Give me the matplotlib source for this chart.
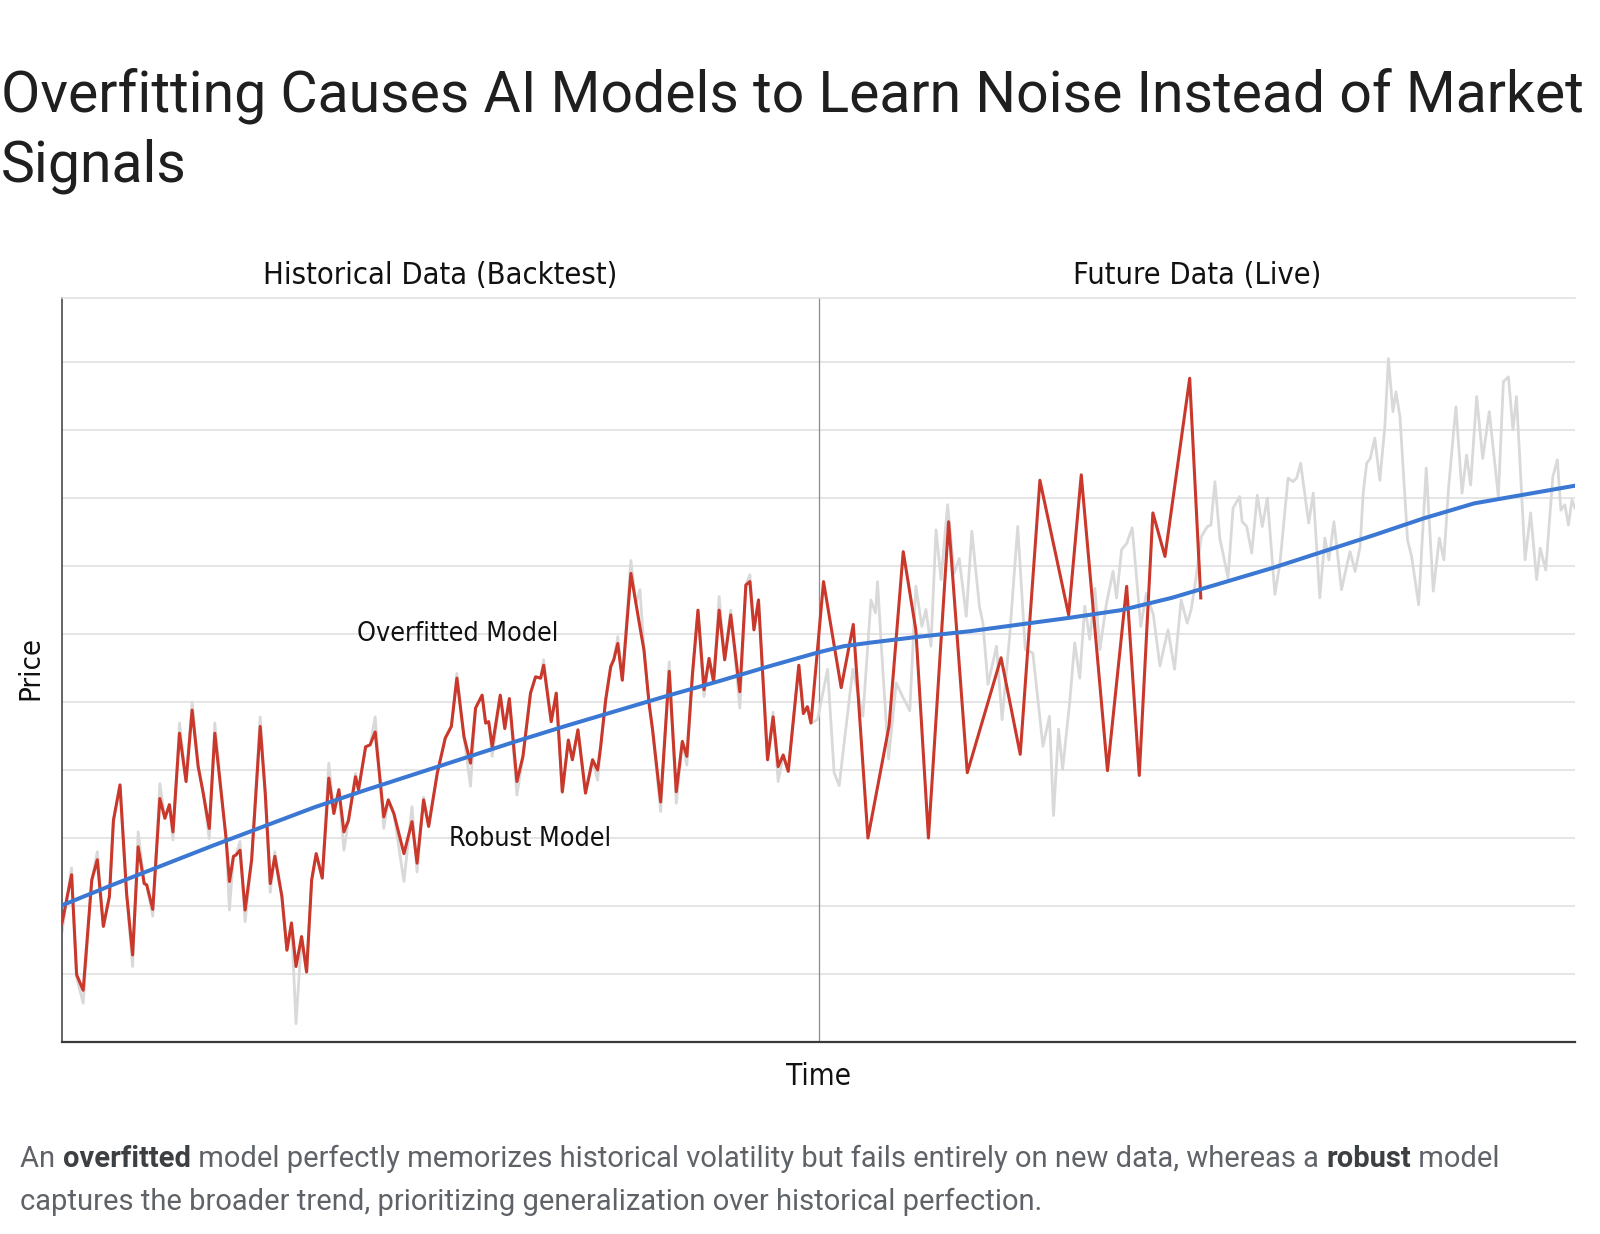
import matplotlib
matplotlib.use("Agg")
import matplotlib.pyplot as plt
from matplotlib.font_manager import FontProperties

# ---------------- data ----------------
# time index 0..300; the split between backtest and live data is at t = 150
hist_t = [0.0, 1.9, 2.9, 4.2, 5.9, 7.0, 8.2, 9.4, 10.2, 11.5,
          12.8, 14.0, 15.1, 16.3, 16.8, 18.0, 19.4, 20.4, 21.3, 22.0,
          23.3, 24.6, 25.8, 27.0, 28.0, 29.2, 30.3, 32.0, 32.5, 33.2,
          34.0, 34.5, 35.3, 36.3, 37.6, 39.3, 40.3, 41.3, 42.2, 43.6,
          44.6, 45.5, 46.4, 47.5, 48.5, 49.5, 50.4,
          51.6, 52.9, 53.9, 54.9, 55.9, 56.8, 58.2, 58.8, 60.2, 61.1,
          62.1, 63.8, 64.7, 65.8, 67.8, 69.4, 70.4, 71.7, 72.7, 74.4,
          76.0, 77.2, 78.3, 79.7, 81.0, 82.0, 83.3, 84.0, 84.6, 85.3,
          86.9, 87.8, 88.7, 90.2, 91.4, 92.9, 93.9, 94.9, 95.5, 97.0,
          98.0, 99.2, 100.4,
          101.2, 102.3, 103.8, 105.2, 106.2, 106.8, 107.8, 108.8, 109.4, 110.2,
          111.1, 112.8, 113.8, 114.6, 115.4, 116.4, 117.1, 118.7, 120.4, 121.8,
          123.0, 123.9, 125.0, 126.1, 127.3, 128.3, 129.2, 130.3, 131.4, 132.6,
          134.4, 135.6, 136.4, 137.2, 138.1, 139.9, 141.0, 142.0, 143.0, 144.0,
          146.1, 147.0, 147.8, 148.5]

hist_overfit = [1.75, 2.46, 0.99, 0.76, 2.38, 2.68, 1.70, 2.14, 3.26, 3.78,
                2.19, 1.28, 2.87, 2.33, 2.31, 1.95, 3.58, 3.29, 3.49, 3.09,
                4.54, 3.83, 4.88, 4.05, 3.66, 3.14, 4.54, 3.36, 3.02, 2.36,
                2.73, 2.75, 2.82, 1.94, 2.68, 4.64, 3.66, 2.33, 2.73, 2.14,
                1.35, 1.75, 1.11, 1.55, 1.03, 2.38, 2.77,
                2.41, 3.88, 3.36, 3.71, 3.09, 3.26, 3.90, 3.71, 4.34, 4.37,
                4.56, 3.31, 3.56, 3.36, 2.77, 3.24, 2.63, 3.56, 3.17, 3.95,
                4.47, 4.64, 5.35, 4.49, 4.10, 4.91, 5.10, 4.69, 4.71, 4.34,
                5.10, 4.61, 5.05, 3.83, 4.20, 5.13, 5.37, 5.35, 5.54, 4.71,
                5.13, 3.68, 4.44,
                4.15, 4.59, 3.66, 4.15, 4.00, 4.34, 5.03, 5.52, 5.62, 5.86,
                5.32, 6.89, 6.45, 6.10, 5.76, 4.98, 4.59, 3.53, 5.45, 3.68,
                4.42, 4.20, 5.40, 6.35, 5.18, 5.64, 5.30, 6.35, 5.62, 6.28,
                5.15, 6.72, 6.77, 6.06, 6.50, 4.15, 4.78, 4.05, 4.22, 3.98,
                5.54, 4.83, 4.93, 4.69]

hist_price = [1.62, 2.56, 0.95, 0.57, 2.38, 2.80, 1.70, 2.14, 3.26, 3.78,
              2.19, 1.11, 3.09, 2.33, 2.31, 1.85, 3.80, 3.29, 3.49, 2.97,
              4.69, 3.83, 5.00, 4.05, 3.66, 2.99, 4.69, 3.36, 3.02, 1.94,
              2.73, 2.75, 2.95, 1.77, 2.68, 4.78, 3.66, 2.20, 2.80, 2.14,
              1.35, 1.75, 0.27, 1.55, 1.03, 2.38, 2.77,
              2.41, 4.10, 3.36, 3.71, 2.82, 3.26, 3.95, 3.71, 4.34, 4.37,
              4.78, 3.14, 3.56, 3.36, 2.36, 3.46, 2.50, 3.60, 3.17, 3.95,
              4.47, 4.64, 5.42, 4.49, 3.76, 4.91, 5.10, 4.69, 4.71, 4.20,
              5.10, 4.61, 5.05, 3.63, 4.20, 5.13, 5.37, 5.35, 5.62, 4.71,
              5.13, 3.66, 4.44,
              4.15, 4.59, 3.66, 4.15, 3.85, 4.34, 5.03, 5.52, 5.62, 5.96,
              5.32, 7.08, 6.45, 6.65, 5.76, 4.98, 4.59, 3.39, 5.59, 3.51,
              4.42, 4.07, 5.40, 6.35, 5.08, 5.64, 5.30, 6.55, 5.62, 6.35,
              4.91, 6.72, 6.87, 6.06, 6.50, 4.15, 4.85, 3.83, 4.22, 3.98,
              5.54, 4.83, 4.93, 4.69]

live_t = [149.8, 151.8, 153.1, 154.1, 155.5, 156.8, 158.8, 160.4, 161.3, 161.7,
          162.7, 163.9, 165.4, 166.6, 168.1, 169.3, 170.5, 171.3, 172.3, 173.3,
          174.3, 175.6, 176.9, 177.9, 179.3, 180.4, 181.9, 182.6, 183.6, 185.3,
          186.4, 187.9, 189.5, 191.0, 192.5, 194.5, 195.8, 196.6, 197.6, 198.4,
          199.8, 200.8, 201.8, 202.8, 203.8, 204.8, 205.8, 207.1, 208.4, 209.1,
          210.1, 211.1, 212.2, 212.7, 213.9, 215.0, 216.4, 217.7, 219.3, 220.6,
          221.9, 223.1, 223.9, 224.9, 225.9, 227.1, 227.8, 228.6, 229.6, 230.2,
          231.2, 232.2, 233.5, 234.0, 234.9, 235.9, 237.0, 238.0, 239.0, 240.5,
          241.5, 243.1, 244.1, 244.8, 245.6, 247.2, 248.1, 249.4, 250.4, 251.2,
          252.2, 253.7, 254.7, 255.4, 256.4, 257.4, 258.0, 258.7, 259.4, 260.3,
          261.3, 262.3, 263.0, 263.9, 264.5, 265.3, 266.8, 267.6, 269.0, 270.5,
          271.9, 273.1, 274.0, 274.9, 275.9, 276.4, 277.6, 278.5, 279.3, 280.5,
          281.7, 283.0, 284.8, 285.8, 286.8, 287.7, 288.4, 290.1, 291.2, 292.4,
          293.1, 294.2, 295.6, 296.5, 297.2, 298.0, 298.7, 299.4, 300.0]

live_price = [4.74, 5.48, 3.96, 3.77, 4.65, 5.48, 4.79, 6.50, 6.31, 6.77,
              5.53, 4.16, 5.28, 5.09, 4.87, 6.70, 6.11, 6.36, 5.82, 7.53,
              6.80, 7.90, 6.89, 7.11, 6.26, 7.51, 6.41, 6.16, 5.26, 5.82,
              4.74, 5.97, 7.58, 5.77, 5.72, 4.35, 4.79, 3.33, 4.60, 4.01,
              4.99, 5.87, 5.35, 6.41, 5.92, 6.67, 5.77, 6.45, 6.92, 6.53,
              7.24, 7.33, 7.56, 7.14, 6.11, 6.60, 6.28, 5.53, 6.06, 5.48,
              6.50, 6.16, 6.36, 6.85, 7.43, 7.58, 7.60, 8.24, 7.39, 7.19,
              6.82, 7.85, 8.02, 7.65, 7.58, 7.19, 8.04, 7.58, 8.00, 6.58,
              7.04, 8.29, 8.24, 8.29, 8.51, 7.63, 8.07, 6.53, 7.41, 7.09,
              7.65, 6.65, 6.99, 7.21, 6.92, 7.29, 8.07, 8.51, 8.58, 8.88,
              8.26, 9.05, 10.05, 9.27, 9.56, 9.19, 7.38, 7.14, 6.43, 8.44,
              6.63, 7.41, 7.09, 8.12, 8.95, 9.34, 8.07, 8.63, 8.19, 9.49,
              8.58, 9.27, 8.02, 9.71, 9.78, 9.00, 9.49, 7.09, 7.78, 6.80,
              7.26, 6.94, 8.31, 8.56, 7.82, 7.90, 7.60, 7.97, 7.85]

live_overfit_t = [151.0, 154.5, 156.9, 159.8, 164.0, 166.8, 169.3, 171.8, 175.8, 179.5,
                  186.2, 190.0, 193.9, 199.6, 202.1, 207.3, 211.1, 213.6, 216.3, 218.7,
                  223.6, 225.8]
live_overfit = [6.77, 5.21, 6.14, 3.00, 4.65, 7.21, 6.06, 3.00, 7.65, 3.96,
                5.65, 4.23, 8.26, 6.28, 8.34, 3.99, 6.70, 3.92, 7.78, 7.14,
                9.76, 6.53]

robust_t = [0, 10, 20, 30, 40, 50, 60, 70, 80, 90, 100, 110, 120, 130, 140, 150,
            155, 160, 170, 180, 190, 200, 210, 220, 230, 240, 250, 260, 270, 280, 290, 300]
robust = [2.01, 2.31, 2.60, 2.89, 3.17, 3.45, 3.70, 3.94, 4.18, 4.42, 4.65, 4.87,
          5.09, 5.30, 5.52, 5.73, 5.82, 5.87, 5.96, 6.04, 6.14, 6.24, 6.35, 6.53,
          6.75, 6.97, 7.21, 7.45, 7.70, 7.92, 8.05, 8.18]

split_t = 150
grid_levels = [1, 2, 3, 4, 5, 6, 7, 8, 9, 10]

title_lines = ["Overfitting Causes AI Models to Learn Noise Instead of Market", "Signals"]
left_header = "Historical Data (Backtest)"
right_header = "Future Data (Live)"
x_label = "Time"
y_label = "Price"
overfit_label = "Overfitted Model"
robust_label = "Robust Model"
caption_line1 = [("An ", False), ("overfitted", True),
                 (" model perfectly memorizes historical volatility but fails entirely on new data, whereas a ", False),
                 ("robust", True), (" model", False)]
caption_line2 = [("captures the broader trend, prioritizing generalization over historical perfection.", False)]

# ---------------- figure ----------------
W, H, DPI = 1600, 1234, 100
fig = plt.figure(figsize=(W / DPI, H / DPI), dpi=DPI)
fig.patch.set_facecolor("white")
renderer = fig.canvas.get_renderer()


def fx(x):
    return x / W


def fy(y):
    return 1 - y / H


def text_w(s, fp):
    w1, _, _ = renderer.get_text_width_height_descent(s + "|", fp, ismath=False)
    w2, _, _ = renderer.get_text_width_height_descent("|", fp, ismath=False)
    return w1 - w2


def fit_size(s, target, family, weight="normal", stretch="normal", base=20.0):
    fp = FontProperties(family=family, size=base, weight=weight, stretch=stretch)
    w, _, _ = renderer.get_text_width_height_descent(s, fp, ismath=False)
    return base * target / w


AX_L, AX_R, AX_T, AX_B = 62, 1575, 298, 1042
ax = fig.add_axes([fx(AX_L), fy(AX_B), (AX_R - AX_L) / W, (AX_B - AX_T) / H])
ax.set_xlim(0, 300)
ax.set_ylim(0, 10.94)
ax.set_yticks(grid_levels)
ax.set_xticks([])
ax.tick_params(left=False, labelleft=False, bottom=False, labelbottom=False)
ax.yaxis.grid(True, color="#dedede", lw=1.1)
ax.set_axisbelow(True)
ax.spines["right"].set_visible(False)
ax.spines["top"].set_color("#dedede")
ax.spines["top"].set_linewidth(1.1)
ax.spines["left"].set_color("#3a3a3a")
ax.spines["left"].set_linewidth(1.1)
ax.spines["bottom"].set_color("#3a3a3a")
ax.spines["bottom"].set_linewidth(1.6)

ax.axvline(split_t, color="#8c8c8c", lw=0.9, zorder=1.5)

price_t = hist_t + live_t
price = hist_price + live_price
ax.plot(price_t, price, color="#d9d9d9", lw=2.0, zorder=2, solid_joinstyle="round")
ax.plot(hist_t + live_overfit_t, hist_overfit + live_overfit, color="#c9382b", lw=2.2,
        zorder=3, solid_joinstyle="round")
ax.plot(robust_t, robust, color="#3b78d3", lw=2.9, zorder=4, solid_capstyle="round")

# ---------------- texts ----------------
LAB = "DejaVu Sans"
ST = "condensed"


def label(s, x, y, target_w, ha="left", va="baseline", rotation=0):
    size = fit_size(s, target_w, LAB, stretch=ST)
    fig.text(fx(x), fy(y), s, fontsize=size, family=LAB, stretch=ST, ha=ha, va=va,
             rotation=rotation, color="#111111")


label(left_header, 440, 284, 353, ha="center")
label(right_header, 1197, 284, 247, ha="center")
label(overfit_label, 357, 641, 202)
label(robust_label, 449, 846, 162)
label(x_label, 818, 1085, 65, ha="center")
label(y_label, 30, 668, 64, ha="center", va="center", rotation=90)

# title
TF = "Roboto"
tsize = fit_size(title_lines[0], 1582, TF)
fig.text(fx(1), fy(111.7), title_lines[0], fontsize=tsize, family=TF, color="#1f1f1f",
         ha="left", va="baseline")
fig.text(fx(1), fy(181.7), title_lines[1], fontsize=tsize, family=TF, color="#1f1f1f",
         ha="left", va="baseline")

# caption with bold words
CF = "Roboto"
base = 20.0
tot = 0.0
for s, b in caption_line1:
    tot += text_w(s, FontProperties(family=CF, size=base, weight="bold" if b else "normal"))
csize = base * 1472 / tot


def draw_caption(pieces, x0, y):
    x = x0
    for s, b in pieces:
        fp = FontProperties(family=CF, size=csize, weight="bold" if b else "normal")
        fig.text(fx(x), fy(y), s, fontproperties=fp, color="#3c4043" if b else "#5f6368",
                 ha="left", va="baseline")
        x += text_w(s, fp)


draw_caption(caption_line1, 20.5, 1167)
draw_caption(caption_line2, 20.5, 1210)

fig.savefig("out.png", dpi=DPI, facecolor="white")
